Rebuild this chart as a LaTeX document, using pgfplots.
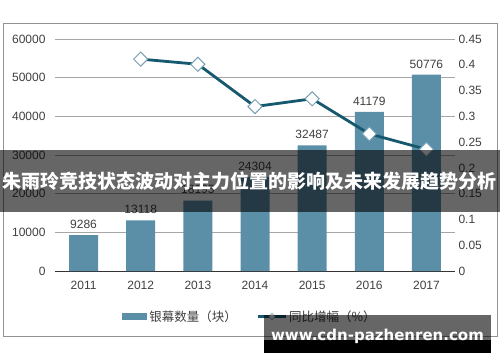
\documentclass[border=0pt]{standalone}
\usepackage{fontspec}
\setmainfont{Liberation Sans}
\newfontfamily\cjk{Noto Sans CJK SC}
\newfontfamily\wm{DejaVu Sans}
\usepackage{pgfplots}
\pgfplotsset{compat=1.18}
\definecolor{barc}{RGB}{91,143,168}
\definecolor{linec}{RGB}{22,88,110}
\definecolor{mkc}{RGB}{120,160,178}
\definecolor{gridc}{RGB}{166,166,166}
\definecolor{txt}{RGB}{64,64,64}
\pgfplotsset{mylinelegend/.style={legend image code/.code={\draw[mark repeat=2,mark phase=2,##1] plot coordinates {(0pt,0pt) (14pt,0pt) (28pt,0pt)};}}}
\begin{document}
\begin{tikzpicture}[x=1pt,y=1pt]
\path[use as bounding box] (0,0) rectangle (500,362);
\fill[white] (0,0) rectangle (500,362);
\draw[gray!85, line width=1pt] (3.5,25.3) rectangle (497.5,338);
\begin{axis}[
  at={(55pt,91pt)}, anchor=south west, scale only axis,
  width=400pt, height=232pt,
  xmin=-0.5, xmax=6.5, ymin=0, ymax=60000,
  axis x line*=bottom, axis y line*=left,
  x axis line style={draw=black!80, line width=1pt, -},
  y axis line style={draw=none},
  major tick length=0pt,
  xtick={0,1,2,3,4,5,6},
  xticklabels={2011,2012,2013,2014,2015,2016,2017},
  ytick={0,10000,20000,30000,40000,50000,60000},
  yticklabels={0,10000,20000,30000,40000,50000,60000},
  scaled y ticks=false,
  ymajorgrids, grid style={gridc, line width=1pt},
  tick label style={font=\fontsize{12}{14}\selectfont, text=txt},
  yticklabel style={xshift=-6pt},
  xticklabel style={yshift=-7pt},
  legend style={at={(0.4875,-0.196)}, anchor=center, draw=none, fill=none,
    legend columns=2, font=\cjk\fontsize{12.5}{14}\selectfont, text=txt,
    /tikz/every even column/.append style={column sep=18pt}},
]
\addplot[ybar, bar width=29pt, fill=barc, draw=none,
  point meta=explicit symbolic,
  nodes near coords,
  nodes near coords style={font=\fontsize{12}{14}\selectfont, text=txt, yshift=3pt},
  legend image code/.code={\fill[barc] (0pt,-3.5pt) rectangle (25pt,3.5pt);}]
  coordinates {(0,9286)[9286] (1,13118)[13118] (2,18195)[18195] (3,24304)[24304] (4,32487)[32487] (5,41179)[41179] (6,50776)[50776]};
\addlegendentry{银幕数量（块）}
\addlegendimage{linec, line width=2.2pt, mark=square*, mark size=2.2pt, mark options={fill=white, draw=mkc, line width=0.6pt, rotate=45}, mylinelegend}
\addlegendentry{同比增幅（\%）}
\end{axis}
\begin{axis}[
  at={(55pt,91pt)}, anchor=south west, scale only axis,
  width=400pt, height=232pt,
  xmin=-0.5, xmax=6.5, ymin=0, ymax=0.45,
  axis x line=none, axis y line*=right,
  y axis line style={draw=none},
  major tick length=0pt,
  ytick={0,0.05,0.1,0.15,0.2,0.25,0.3,0.35,0.4,0.45},
  yticklabels={0,0.05,0.1,0.15,0.2,0.25,0.3,0.35,0.4,0.45},
  scaled y ticks=false,
  tick label style={font=\fontsize{12}{14}\selectfont, text=txt},
  yticklabel style={xshift=0pt},
]
\addplot[linec, line width=2.8pt, mark=square*, mark size=5pt,
  mark options={fill=white, draw=mkc, line width=1pt, rotate=45}]
  coordinates {(1,0.411) (2,0.401) (3,0.319) (4,0.334) (5,0.266) (6,0.236)};
\end{axis}
\fill[black, opacity=0.6] (0,150) rectangle (500,212);
\node[white, font=\cjk\bfseries\fontsize{19}{20}\selectfont, inner sep=0pt] at (249,181) {朱雨玲竞技状态波动对主力位置的影响及未来发展趋势分析};
\fill[black, opacity=0.6] (264,22) rectangle (491,47);
\fill[black] (264,9.3) rectangle (491,22);
\node[white, font=\wm\bfseries\fontsize{15}{16}\selectfont, inner sep=0pt] at (377.5,25.5) {www.cdn-pazhenren.com};
\end{tikzpicture}
\end{document}
